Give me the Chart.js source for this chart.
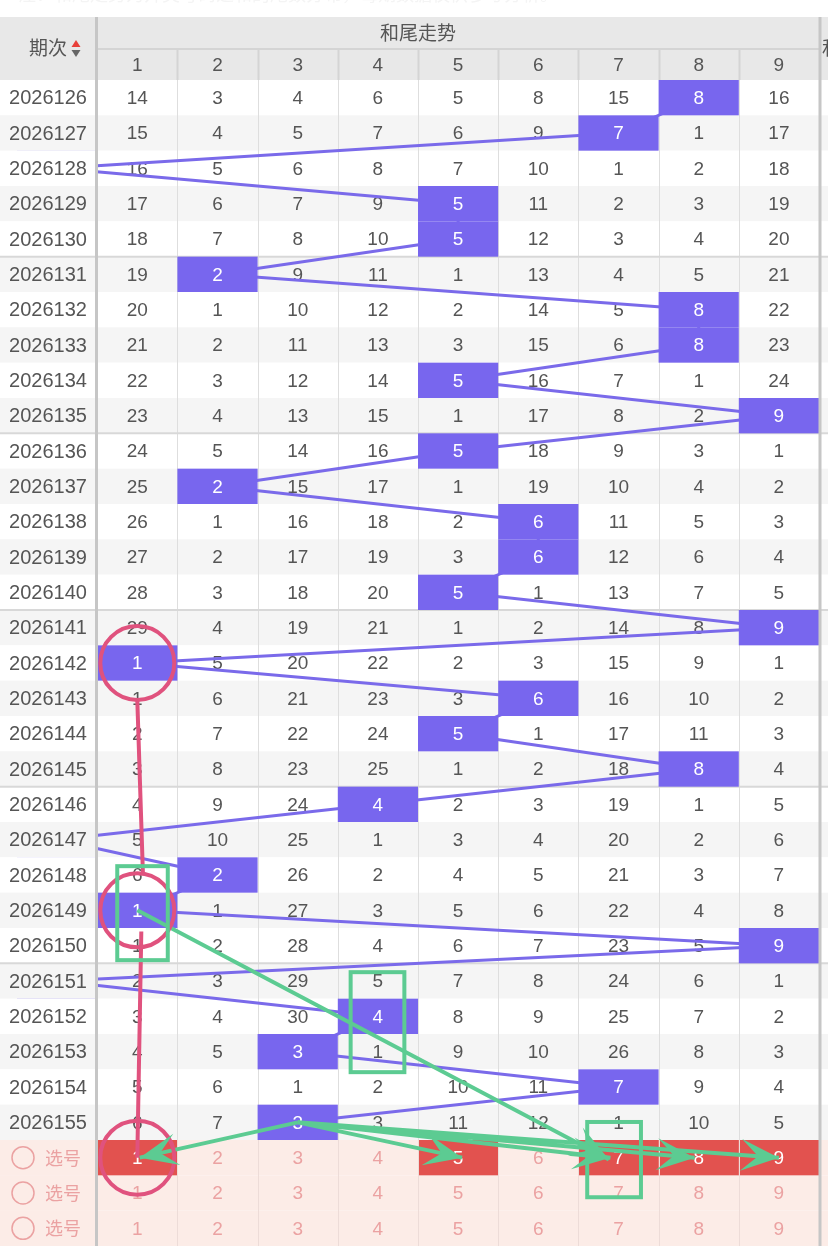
<!DOCTYPE html>
<html>
<head>
<meta charset="utf-8">
<script src="https://cdn.jsdelivr.net/npm/chart.js@4.4.0/dist/chart.umd.min.js"></script>
<style>
    html, body { margin: 0; padding: 0; background: #fff; }
    #wrap { width: 828px; height: 1246px; }
</style>
</head>
<body>
<div id="wrap"><canvas id="trend" width="828" height="1246"></canvas></div>
<script>
const periods = ["2026126", "2026127", "2026128", "2026129", "2026130", "2026131", "2026132", "2026133", "2026134", "2026135",
    "2026136", "2026137", "2026138", "2026139", "2026140", "2026141", "2026142", "2026143", "2026144", "2026145",
    "2026146", "2026147", "2026148", "2026149", "2026150", "2026151", "2026152", "2026153", "2026154", "2026155"];

// winning tail per period (0 sits in the column hidden under the frozen one)
const hitDigits = [8, 7, 0, 5, 5, 2, 8, 8, 5, 9, 5, 2, 6, 6, 5, 9, 1, 6, 5, 8, 4, 0, 2, 1, 9, 0, 4, 3, 7, 3];

// omission values, columns 1..9
const missing = [
    [14, 3, 4, 6, 5, 8, 15, 8, 16],
    [15, 4, 5, 7, 6, 9, 7, 1, 17],
    [16, 5, 6, 8, 7, 10, 1, 2, 18],
    [17, 6, 7, 9, 5, 11, 2, 3, 19],
    [18, 7, 8, 10, 5, 12, 3, 4, 20],
    [19, 2, 9, 11, 1, 13, 4, 5, 21],
    [20, 1, 10, 12, 2, 14, 5, 8, 22],
    [21, 2, 11, 13, 3, 15, 6, 8, 23],
    [22, 3, 12, 14, 5, 16, 7, 1, 24],
    [23, 4, 13, 15, 1, 17, 8, 2, 9],
    [24, 5, 14, 16, 5, 18, 9, 3, 1],
    [25, 2, 15, 17, 1, 19, 10, 4, 2],
    [26, 1, 16, 18, 2, 6, 11, 5, 3],
    [27, 2, 17, 19, 3, 6, 12, 6, 4],
    [28, 3, 18, 20, 5, 1, 13, 7, 5],
    [29, 4, 19, 21, 1, 2, 14, 8, 9],
    [1, 5, 20, 22, 2, 3, 15, 9, 1],
    [1, 6, 21, 23, 3, 6, 16, 10, 2],
    [2, 7, 22, 24, 5, 1, 17, 11, 3],
    [3, 8, 23, 25, 1, 2, 18, 8, 4],
    [4, 9, 24, 4, 2, 3, 19, 1, 5],
    [5, 10, 25, 1, 3, 4, 20, 2, 6],
    [6, 2, 26, 2, 4, 5, 21, 3, 7],
    [1, 1, 27, 3, 5, 6, 22, 4, 8],
    [1, 2, 28, 4, 6, 7, 23, 5, 9],
    [2, 3, 29, 5, 7, 8, 24, 6, 1],
    [3, 4, 30, 4, 8, 9, 25, 7, 2],
    [4, 5, 3, 1, 9, 10, 26, 8, 3],
    [5, 6, 1, 2, 10, 11, 7, 9, 4],
    [6, 7, 3, 3, 11, 12, 1, 10, 5],
];

const digitLabels = ["1", "2", "3", "4", "5", "6", "7", "8", "9"];
const pickRowLabels = ["选号", "选号", "选号"];
const pickedDigits = [1, 5, 7, 8, 9];

// hand annotations, in (digit, row) units
const pinkCircles = [{ x: 1, y: 16 }, { x: 1, y: 23 }, { x: 1, y: 30 }];
const pinkLinks = [
    [{ x: 1.0, y: 17.05 }, { x: 1.07, y: 21.95 }],
    [{ x: 1.05, y: 23.6 }, { x: 1.0, y: 30 }],
];
const greenBoxes = [
    [0.75, 21.75, 1.38, 24.41],
    [3.66, 24.75, 4.33, 27.58],
    [6.61, 28.99, 7.28, 31.12],
];
const greenArrows = [
    [{ x: 1, y: 23 }, { x: 6.88, y: 30.05 }],
    [{ x: 3, y: 29 }, { x: 1.03, y: 30 }],
    [{ x: 3, y: 29 }, { x: 5.05, y: 30 }],
    [{ x: 3, y: 29 }, { x: 6.9, y: 30 }],
    [{ x: 3, y: 29 }, { x: 7.95, y: 30 }],
    [{ x: 3, y: 29 }, { x: 9.0, y: 30 }],
];

const FONT = "'Liberation Sans', 'Noto Sans CJK SC', sans-serif";
const CJK = "'Noto Sans CJK SC', 'Liberation Sans', sans-serif";
const W = 828;
const H = 1246;
const HEADER_TOP = 17;
const FROZEN_W = 96;
const ROW_BG = ["#ffffff", "#f5f5f5"];
const PICK_BG = "#fcece7";
const PURPLE = "#7866ee";
const RED = "#e2524f";
const GREEN = "#5ccb92";
const PINK = "#e0527e";
const TEXT = "#555555";
const PICK_TEXT = "#eba2a2";

const rowBand = (chart, i) => {
    const ys = chart.scales.y;
    const top = ys.getPixelForValue(i - 0.5);
    const bottom = ys.getPixelForValue(i + 0.5);
    return { top, bottom, h: bottom - top, mid: (top + bottom) / 2 };
};
const colBand = (chart, d) => {
    const xs = chart.scales.x;
    const left = xs.getPixelForValue(d - 0.5);
    const right = xs.getPixelForValue(d + 0.5);
    return { left, right, w: right - left, mid: (left + right) / 2 };
};

const text = (ctx, str, x, y, color, size, align = "center", family = FONT) => {
    ctx.fillStyle = color;
    ctx.font = `${size}px ${family}`;
    ctx.textAlign = align;
    ctx.textBaseline = "middle";
    ctx.fillText(str, x, y);
};

const hline = (ctx, x1, x2, y, color, width) => {
    ctx.strokeStyle = color;
    ctx.lineWidth = width;
    ctx.beginPath();
    ctx.moveTo(x1, y);
    ctx.lineTo(x2, y);
    ctx.stroke();
};
const vline = (ctx, x, y1, y2, color, width) => {
    ctx.strokeStyle = color;
    ctx.lineWidth = width;
    ctx.beginPath();
    ctx.moveTo(x, y1);
    ctx.lineTo(x, y2);
    ctx.stroke();
};

const nPeriods = periods.length;

const tablePlugin = {
    id: "trendTable",
    beforeDatasetsDraw(chart) {
        const ctx = chart.ctx;
        ctx.save();
        ctx.fillStyle = "#fff";
        ctx.fillRect(0, 0, W, H);

        // faint cut-off caption at the very top
        ctx.fillStyle = "#f4f4f4";
        ctx.font = `18px ${CJK}`;
        ctx.textAlign = "left";
        ctx.textBaseline = "alphabetic";
        ctx.fillText("注：和尾走势为开奖号码之和的尾数分布，每期数据仅供参考分析。", 18, 1);

        // row backgrounds
        periods.forEach((p, i) => {
            const r = rowBand(chart, i);
            ctx.fillStyle = ROW_BG[i % 2];
            ctx.fillRect(0, r.top, W, r.h);
        });
        pickRowLabels.forEach((lbl, k) => {
            const r = rowBand(chart, nPeriods + k);
            ctx.fillStyle = PICK_BG;
            ctx.fillRect(0, r.top, W, r.h);
        });

        // picked cells in the first selection row
        const r0 = rowBand(chart, nPeriods);
        pickedDigits.forEach((d) => {
            const c = colBand(chart, d);
            ctx.fillStyle = RED;
            ctx.fillRect(c.left, r0.top, c.w, r0.h);
        });

        // column lines
        const tableTop = rowBand(chart, 0).top;
        const pickTop = rowBand(chart, nPeriods).top;
        for (let d = 1; d <= 9; d++) {
            const c = colBand(chart, d);
            vline(ctx, Math.round(c.right) + 0.5, tableTop, pickTop, "#dedede", 1);
            vline(ctx, Math.round(c.right) + 0.5, pickTop, H, "#eddcd8", 1);
        }

        // group separators every five periods
        for (let i = 5; i < nPeriods; i += 5) {
            hline(ctx, 0, W, rowBand(chart, i).top, "#d8d8d8", 2);
        }

        // omission numbers
        missing.forEach((row, i) => {
            const r = rowBand(chart, i);
            row.forEach((v, k) => {
                const d = k + 1;
                if (d === hitDigits[i]) return;
                text(ctx, String(v), colBand(chart, d).mid, r.mid + 1, TEXT, 19);
            });
        });

        // selection row numbers
        pickRowLabels.forEach((lbl, k) => {
            const r = rowBand(chart, nPeriods + k);
            digitLabels.forEach((s, j) => {
                const d = j + 1;
                const on = k === 0 && pickedDigits.includes(d);
                text(ctx, s, colBand(chart, d).mid, r.mid + 1, on ? "#ffffff" : PICK_TEXT, 19);
            });
        });
        ctx.restore();
    },

    afterDatasetDraw(chart, args) {
        if (args.index !== 0) return;
        const ctx = chart.ctx;
        ctx.save();

        // winning cells sit on top of the trend line
        hitDigits.forEach((d, i) => {
            const r = rowBand(chart, i);
            const c = colBand(chart, d);
            ctx.fillStyle = PURPLE;
            ctx.fillRect(c.left, r.top, c.w, r.h);
            text(ctx, String(d), c.mid, r.mid + 1, "#ffffff", 19);
        });

        // frozen period column
        periods.forEach((p, i) => {
            const r = rowBand(chart, i);
            ctx.fillStyle = ROW_BG[i % 2];
            ctx.fillRect(0, r.top, FROZEN_W, r.h);
            if (i > 0 && i % 5 === 0) hline(ctx, 0, FROZEN_W, r.top, "#d8d8d8", 2);
            text(ctx, p, 48, r.mid + 1, TEXT, 20);
        });
        pickRowLabels.forEach((lbl, k) => {
            const r = rowBand(chart, nPeriods + k);
            ctx.fillStyle = PICK_BG;
            ctx.fillRect(0, r.top, FROZEN_W, r.h);
            ctx.strokeStyle = PICK_TEXT;
            ctx.lineWidth = 1.5;
            ctx.beginPath();
            ctx.arc(23, r.mid, 11, 0, Math.PI * 2);
            ctx.stroke();
            text(ctx, lbl, 45, r.mid, PICK_TEXT, 18, "left", CJK);
        });

        // header
        const xs = chart.scales.x;
        const top = HEADER_TOP;
        const bottom = rowBand(chart, 0).top;
        const split = 49;
        ctx.fillStyle = "#e8e8e8";
        ctx.fillRect(0, top, W, bottom - top);
        hline(ctx, FROZEN_W, 819, split, "#d4d4d4", 2);
        for (let d = 1; d <= 9; d++) {
            const c = colBand(chart, d);
            if (d < 9) vline(ctx, Math.round(c.right) + 0.5, split, bottom, "#d4d4d4", 2);
            text(ctx, digitLabels[d - 1], c.mid, (split + bottom) / 2 + 1, TEXT, 19);
        }
        const groupMid = (xs.getPixelForValue(-0.5) + xs.getPixelForValue(9.5)) / 2;
        text(ctx, "和尾走势", groupMid, 33, TEXT, 19, "center", CJK);
        text(ctx, "期次", 29, 48, TEXT, 19, "left", CJK);
        // sort arrows
        ctx.fillStyle = "#e8403a";
        ctx.beginPath();
        ctx.moveTo(76, 40); ctx.lineTo(80.5, 47); ctx.lineTo(71.5, 47); ctx.closePath();
        ctx.fill();
        ctx.fillStyle = "#666";
        ctx.beginPath();
        ctx.moveTo(71.5, 50); ctx.lineTo(80.5, 50); ctx.lineTo(76, 57); ctx.closePath();
        ctx.fill();
        text(ctx, "和", 822, 48, TEXT, 19, "left", CJK);

        // borders of the frozen column and the block edge
        vline(ctx, FROZEN_W + 0.5, top, H, "#c6c6c6", 3);
        vline(ctx, 820, top, H, "#c6c6c6", 3);
        ctx.restore();
    },

    afterDatasetsDraw(chart) {
        const ctx = chart.ctx;
        const xs = chart.scales.x;
        const ys = chart.scales.y;
        ctx.save();
        ctx.strokeStyle = GREEN;
        ctx.lineWidth = 4;
        greenBoxes.forEach(([x1, y1, x2, y2]) => {
            const l = xs.getPixelForValue(x1);
            const r = xs.getPixelForValue(x2);
            const t = ys.getPixelForValue(y1);
            const b = ys.getPixelForValue(y2);
            ctx.strokeRect(l, t, r - l, b - t);
        });

        // concave arrow heads
        ctx.fillStyle = GREEN;
        greenArrows.forEach(([from, to]) => {
            const fx = xs.getPixelForValue(from.x);
            const fy = ys.getPixelForValue(from.y);
            const tx = xs.getPixelForValue(to.x);
            const ty = ys.getPixelForValue(to.y);
            const len = Math.hypot(tx - fx, ty - fy);
            const ux = (tx - fx) / len;
            const uy = (ty - fy) / len;
            const nx = -uy;
            const ny = ux;
            const L = 38;
            const Wd = 16;
            ctx.beginPath();
            ctx.moveTo(tx, ty);
            ctx.lineTo(tx - L * ux + Wd * nx, ty - L * uy + Wd * ny);
            ctx.lineTo(tx - 0.55 * L * ux, ty - 0.55 * L * uy);
            ctx.lineTo(tx - L * ux - Wd * nx, ty - L * uy - Wd * ny);
            ctx.closePath();
            ctx.fill();
        });
        ctx.restore();
    },
};

// flatten segment lists into one line series broken by gaps
const segmentsToPoints = (segs) => {
    const pts = [];
    segs.forEach((seg, i) => {
        if (i > 0) pts.push({ x: seg[0].x, y: null });
        seg.forEach((p) => pts.push(p));
    });
    return pts;
};

const ctx = document.getElementById("trend").getContext("2d");
new Chart(ctx, {
    type: "line",
    data: {
        datasets: [
            {
                label: "和尾",
                data: hitDigits.map((d, i) => ({ x: d, y: i })),
                borderColor: "#7a6aea",
                borderWidth: 3,
                borderJoinStyle: "round",
                pointRadius: 0,
                tension: 0,
                order: 3,
            },
            {
                label: "links",
                data: segmentsToPoints(pinkLinks),
                borderColor: PINK,
                borderWidth: 4,
                pointRadius: 0,
                spanGaps: false,
                order: 2,
            },
            {
                label: "arrows",
                data: segmentsToPoints(greenArrows),
                borderColor: GREEN,
                borderWidth: 4,
                pointRadius: 0,
                spanGaps: false,
                order: 1,
            },
            {
                label: "circles",
                data: pinkCircles,
                showLine: false,
                pointRadius: 37,
                pointStyle: "circle",
                pointBackgroundColor: "rgba(0,0,0,0)",
                pointBorderColor: PINK,
                pointBorderWidth: 4,
                order: 0,
            },
        ],
    },
    options: {
        responsive: false,
        animation: false,
        devicePixelRatio: 1,
        events: [],
        layout: { autoPadding: false, padding: { top: 80, left: 17, right: 9, bottom: 0 } },
        plugins: {
            legend: { display: false },
            tooltip: { enabled: false },
        },
        scales: {
            x: { type: "linear", min: -0.5, max: 9.5, display: false },
            y: { type: "linear", min: -0.5, max: 32.5, reverse: true, display: false },
        },
    },
    plugins: [tablePlugin],
});
</script>
</body>
</html>
